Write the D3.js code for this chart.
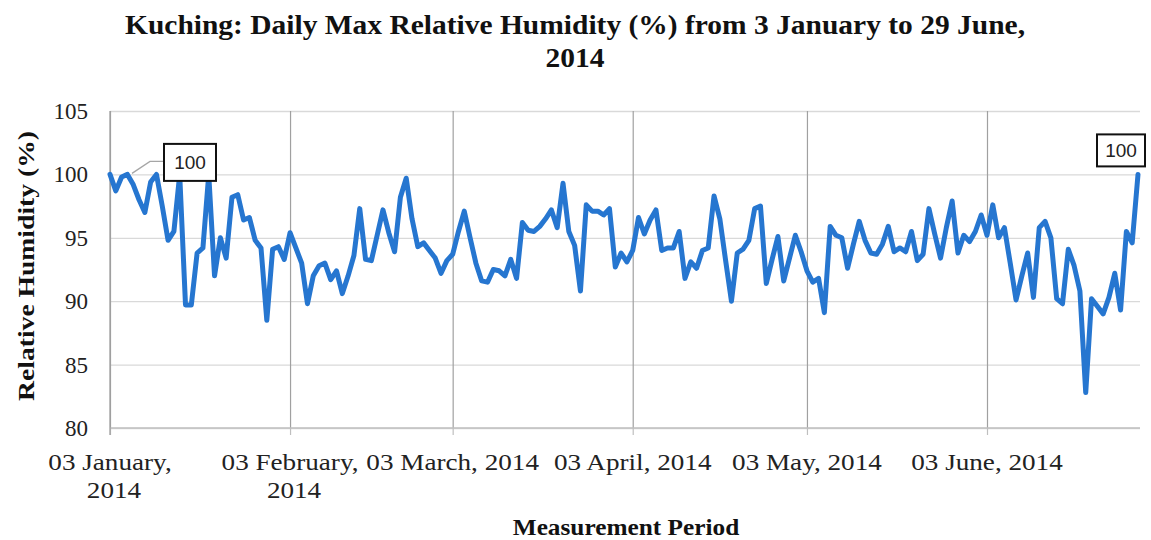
<!DOCTYPE html>
<html>
<head>
<meta charset="utf-8">
<script src="https://cdn.jsdelivr.net/npm/d3@7"></script>
<style>
    body { margin: 0; background: #fff; }
    svg { display: block; }
</style>
</head>
<body>
<svg id="chart" width="1151" height="540"></svg>
<script>
// daily max relative humidity (%), Kuching, 3 Jan - 29 Jun 2014
const startDate = "2014-01-03"
const janValues = [100, 98.7, 99.8, 100, 99.2, 98.0, 97.0, 99.4, 100, 97.5, 94.8, 95.5, 100, 89.7, 89.7,
    93.8, 94.2, 100, 92.0, 95.0, 93.4, 98.2, 98.4, 96.4, 96.6, 94.8, 94.2, 88.5, 94.1]
const febValues = [94.3, 93.3, 95.4, 94.2, 93.0, 89.8, 92.0, 92.8, 93.0, 91.7, 92.4, 90.6, 92.0, 93.6,
    97.3, 93.3, 93.2, 95.2, 97.2, 95.4, 93.9, 98.2, 99.7, 96.5, 94.3, 94.6, 94.0, 93.4]
const marValues = [92.2, 93.2, 93.7, 95.5, 97.1, 95.0, 93.0, 91.6, 91.5, 92.5, 92.4, 92.0, 93.3, 91.8,
    96.2, 95.6, 95.5, 95.9, 96.5, 97.2, 95.8, 99.3, 95.5, 94.4, 90.8, 97.6, 97.1, 97.1, 96.8, 97.3, 92.7]
const aprValues = [93.8, 93.1, 94.0, 96.6, 95.3, 96.4, 97.2, 94.0, 94.2, 94.2, 95.5, 91.8, 93.1, 92.6,
    94.0, 94.2, 98.3, 96.5, 93.2, 90.0, 93.8, 94.1, 94.8, 97.3, 97.5, 91.4, 93.3, 95.1, 91.6, 93.4]
const mayValues = [95.2, 93.9, 92.4, 91.5, 91.8, 89.1, 95.9, 95.2, 95.0, 92.6, 94.5, 96.3, 94.8, 93.8,
    93.7, 94.5, 95.9, 93.9, 94.2, 93.9, 95.5, 93.2, 93.7, 97.3, 95.3, 93.4, 95.8, 97.9, 93.8, 95.2, 94.7]
const junValues = [95.5, 96.8, 95.2, 97.6, 95.0, 95.8, 93.0, 90.1, 92.0, 93.8, 90.3, 95.8, 96.3, 95.0,
    90.2, 89.8, 94.1, 92.8, 90.8, 82.8, 90.2, 89.6, 89.0, 90.3, 92.2, 89.3, 95.5, 94.6, 100]

const yTicks = [80, 85, 90, 95, 100, 105]
const xTickDates = ["2014-01-03", "2014-02-03", "2014-03-03", "2014-04-03", "2014-05-03", "2014-06-03"]
const xTickLabels = [["03 January,", "2014"], ["03 February,", "2014"], ["03 March, 2014"],
    ["03 April, 2014"], ["03 May, 2014"], ["03 June, 2014"]]

const titleLines = ["Kuching: Daily Max Relative Humidity (%) from 3 January to 29 June,", "2014"]
const xTitle = "Measurement Period"
const yTitle = "Relative Humidity (%)"

const LEFT = 110, RIGHT = 1140, TOP = 111, BOTTOM = 428
const SERIF = "'Liberation Serif', 'Times New Roman', serif"
const SANS = "'Liberation Sans', Arial, sans-serif"
const LINE_COLOR = "#2676d0"

const parse = d3.timeParse("%Y-%m-%d")
const values = [].concat(janValues, febValues, marValues, aprValues, mayValues, junValues)
const data = values.map((v, i) => [d3.timeDay.offset(parse(startDate), i), v])

const svg = d3.select("#chart")

const xScale = d3.scaleTime()
    .domain(d3.extent(data, d => d[0]))
    .range([LEFT, 1138])

const yScale = d3.scaleLinear()
    .domain([80, 105])
    .range([BOTTOM, TOP])

// stretch text horizontally by factor k (the source fonts are wider)
function stretch(sel, k) {
    sel.each(function () {
        const w = this.getComputedTextLength()
        d3.select(this).attr("textLength", w * k).attr("lengthAdjust", "spacingAndGlyphs")
    })
}

// horizontal grid
svg.append("g")
    .attr("transform", `translate(${LEFT},0)`)
    .call(d3.axisLeft(yScale).tickValues(yTicks).tickSize(-(RIGHT - LEFT)).tickFormat(""))
    .call(g => g.select(".domain").remove())
    .selectAll("line")
    .attr("stroke", "#d9d9d9")
    .attr("stroke-width", 1.3)

// vertical grid at month ticks
const tickDates = xTickDates.map(parse)
svg.append("g")
    .attr("transform", `translate(0,${BOTTOM})`)
    .call(d3.axisBottom(xScale).tickValues(tickDates).tickSizeInner(-(BOTTOM - TOP)).tickSizeOuter(0).tickFormat(""))
    .call(g => g.select(".domain").remove())
    .selectAll("line")
    .attr("stroke", "#a0a0a0")
    .attr("stroke-width", 1.2)

// x axis with short ticks below
const xAxis = svg.append("g")
    .attr("transform", `translate(0,${BOTTOM})`)
    .call(d3.axisBottom(xScale).tickValues(tickDates).tickSizeInner(7).tickSizeOuter(0).tickFormat(""))
xAxis.select(".domain").attr("d", `M${LEFT},0H${RIGHT}`).attr("stroke", "#bfbfbf").attr("stroke-width", 1.3)
xAxis.selectAll(".tick line").attr("stroke", "#bfbfbf").attr("stroke-width", 1.2)

// left axis line
svg.append("line")
    .attr("x1", LEFT).attr("x2", LEFT)
    .attr("y1", TOP).attr("y2", BOTTOM + 7)
    .attr("stroke", "#a0a0a0")
    .attr("stroke-width", 1.3)

// y tick labels
svg.append("g")
    .selectAll("text")
    .data(yTicks)
    .enter()
    .append("text")
    .attr("x", 88)
    .attr("y", d => yScale(d))
    .attr("dy", "0.35em")
    .attr("text-anchor", "end")
    .style("font-family", SERIF)
    .style("font-size", "23px")
    .style("fill", "#222")
    .text(d => d)

// x tick labels
const xLabels = svg.append("g")
    .selectAll("text")
    .data(tickDates)
    .enter()
    .append("text")
    .attr("x", d => xScale(d))
    .attr("y", 470)
    .attr("text-anchor", "middle")
    .style("font-family", SERIF)
    .style("font-size", "23px")
    .style("fill", "#222")

xLabels.each(function (d, i) {
    const t = d3.select(this)
    xTickLabels[i].forEach((line, j) => {
        t.append("tspan")
            .attr("x", xScale(d) + (j === 0 ? 0 : 4))
            .attr("dy", j === 0 ? 0 : 28)
            .text(line)
    })
})
xLabels.selectAll("tspan").call(stretch, 1.18)

// line
const line = d3.line()
    .x(d => xScale(d[0]))
    .y(d => yScale(d[1]))

svg.append("path")
    .datum(data)
    .attr("d", line)
    .style("fill", "none")
    .style("stroke", LINE_COLOR)
    .style("stroke-width", 5)
    .style("stroke-linejoin", "round")
    .style("stroke-linecap", "round")

// data labels on first and last point
const first = data[0], last = data[data.length - 1]
const fx = xScale(first[0]), fy = yScale(first[1])
const lx = xScale(last[0]), ly = yScale(last[1])

svg.append("polyline")
    .attr("points", `${fx + 22},${fy - 1} ${fx + 40},${fy - 13} ${fx + 55},${fy - 13}`)
    .style("fill", "none")
    .style("stroke", "#a6a6a6")
    .style("stroke-width", 1.3)

function dataLabel(cx, cy, w, h, txt) {
    svg.append("rect")
        .attr("x", cx - w / 2).attr("y", cy - h / 2)
        .attr("width", w).attr("height", h)
        .style("fill", "#fff")
        .style("stroke", "#111")
        .style("stroke-width", 2)
    svg.append("text")
        .attr("x", cx).attr("y", cy)
        .attr("dy", "0.36em")
        .attr("text-anchor", "middle")
        .style("font-family", SANS)
        .style("font-size", "19px")
        .style("fill", "#222")
        .text(txt)
}
dataLabel(fx + 80, fy - 12, 52, 37, first[1])
dataLabel(lx - 17, ly - 24, 48, 32, last[1])

// titles
const title = svg.append("text")
    .attr("text-anchor", "middle")
    .style("font-family", SERIF)
    .style("font-weight", "bold")
    .style("font-size", "28px")
    .style("fill", "#111")
title.selectAll("tspan")
    .data(titleLines)
    .enter()
    .append("tspan")
    .attr("x", 575)
    .attr("y", (d, i) => 34 + i * 33)
    .text(d => d)
const titleK = 900 / title.select("tspan").node().getComputedTextLength()
title.selectAll("tspan").call(stretch, titleK)

svg.append("text")
    .attr("x", 626)
    .attr("y", 535)
    .attr("text-anchor", "middle")
    .style("font-family", SERIF)
    .style("font-weight", "bold")
    .style("font-size", "23px")
    .style("fill", "#111")
    .text(xTitle)
    .call(stretch, 1.1)

svg.append("text")
    .attr("transform", "translate(34,266) rotate(-90)")
    .attr("text-anchor", "middle")
    .style("font-family", SERIF)
    .style("font-weight", "bold")
    .style("font-size", "23px")
    .style("fill", "#111")
    .text(yTitle)
    .call(stretch, 1.2)
</script>
</body>
</html>
